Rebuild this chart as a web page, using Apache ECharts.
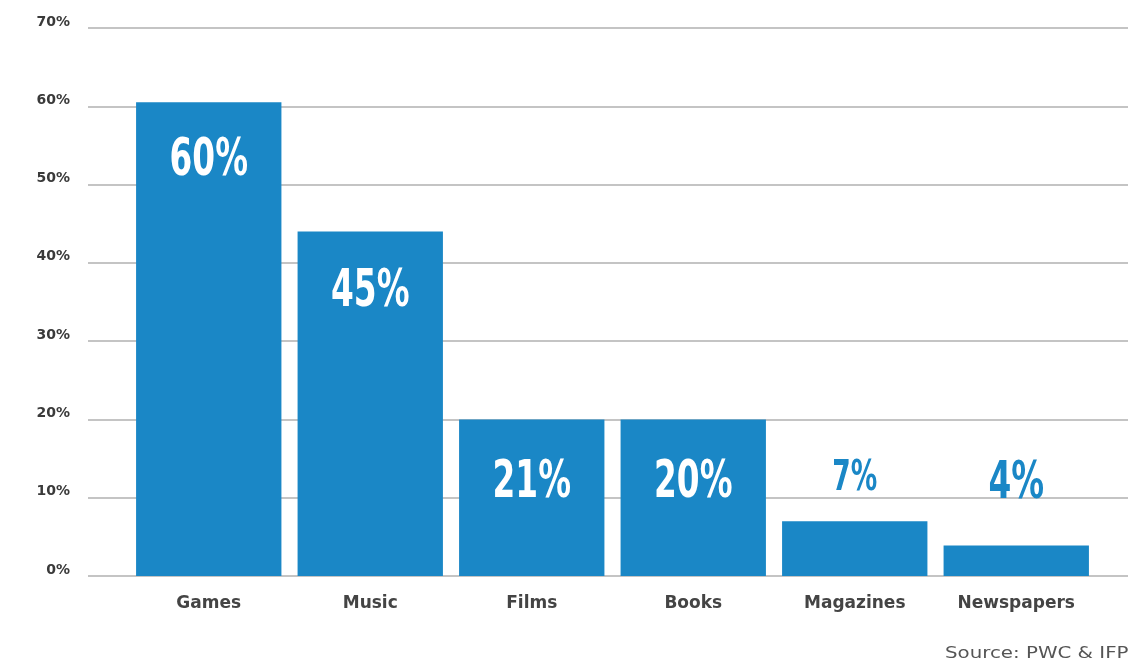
<!DOCTYPE html>
<html>
<head>
<meta charset="utf-8">
<script src="https://cdn.jsdelivr.net/npm/echarts@6/dist/echarts.min.js"></script>
<style>html,body{margin:0;padding:0;background:#fff}#c{width:1128px;height:666px}</style>
</head>
<body>
<div id="c"></div>
<script>
var categories = ["Games", "Music", "Films", "Books", "Magazines", "Newspapers"];
var barValues = [60.5, 44, 20, 20, 7, 3.9];
var barLabels = ["60%", "45%", "21%", "20%", "7%", "4%"];
var yTicks = [0, 10, 20, 30, 40, 50, 60, 70];
var sourceText = "Source: PWC & IFPI";

var BLUE = "#1a87c6";
var labelFont = '"DejaVu Sans Condensed", "DejaVu Sans", sans-serif';

// label styling per bar (inside white labels vs outside blue labels)
var labelStyles = [
  { dy: 33, size: 52, color: "#fff" },
  { dy: 35, size: 52, color: "#fff" },
  { dy: 38, size: 52, color: "#fff" },
  { dy: 38, size: 52, color: "#fff" },
  { dy: -63, size: 42, color: BLUE },
  { dy: -87, size: 52, color: BLUE }
];

var chart = echarts.init(document.getElementById("c"), null, { renderer: "canvas" });
chart.setOption({
  animation: false,
  backgroundColor: "#fff",
  graphic: [{
    type: "text",
    left: 945, top: 647,
    scaleX: 1.32,
    style: {
      text: sourceText,
      font: '15px "DejaVu Sans", sans-serif',
      fill: "#555"
    }
  }],
  grid: [
    { left: 88, right: 0, top: 28, bottom: 90 },
    { left: 128, right: 31, top: 28, bottom: 90 }
  ],
  xAxis: [
    { type: "value", gridIndex: 0, show: false, min: 0, max: 1 },
    {
      type: "category", gridIndex: 1, data: categories,
      axisLine: { show: false }, axisTick: { show: false },
      axisLabel: { margin: 19, color: "#444", fontFamily: '"DejaVu Sans", sans-serif', fontWeight: "bold", fontSize: 17 }
    }
  ],
  yAxis: [
    {
      type: "value", gridIndex: 0, min: yTicks[0], max: yTicks[yTicks.length - 1], interval: 10,
      axisLine: { show: false }, axisTick: { show: false },
      axisLabel: { margin: 18, color: "#3a3a3a", fontFamily: '"DejaVu Sans", sans-serif', fontWeight: "bold", fontSize: 14, verticalAlign: "bottom", lineHeight: 12, formatter: "{value}%" },
      splitLine: { lineStyle: { color: "#c4c4c4", width: 2 } }
    },
    { type: "value", gridIndex: 1, min: 0, max: 70, show: false, splitLine: { show: false } }
  ],
  series: [
    {
      type: "bar",
      xAxisIndex: 1, yAxisIndex: 1,
      data: barValues,
      barCategoryGap: "10%",
      itemStyle: { color: BLUE }
    },
    {
      type: "custom",
      xAxisIndex: 1, yAxisIndex: 1,
      data: barValues.map(function (v, i) { return [i, v]; }),
      z: 5,
      renderItem: function (params, api) {
        var i = params.dataIndex;
        var pt = api.coord([api.value(0), api.value(1)]);
        var s = labelStyles[i];
        return {
          type: "text",
          x: pt[0], y: pt[1] + s.dy,
          scaleX: 0.7,
          style: {
            text: barLabels[i],
            fill: s.color,
            font: "bold " + s.size + "px " + labelFont,
            align: "center",
            verticalAlign: "top"
          }
        };
      }
    }
  ]
});
</script>
</body>
</html>
